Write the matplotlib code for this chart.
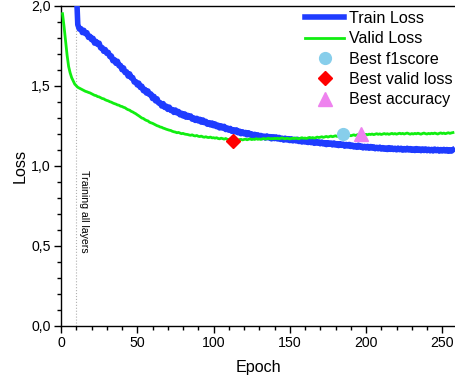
import matplotlib
matplotlib.use("Agg")
import matplotlib.pyplot as plt
from matplotlib.ticker import MultipleLocator, FixedLocator, FixedFormatter

plt.rcParams['font.family'] = ['Liberation Sans', 'DejaVu Sans']

# Validation loss, epochs 1..257
valid_start_epoch = 1
valid_loss = [
    1.95, 1.87, 1.78, 1.69, 1.62, 1.58, 1.55, 1.53, 1.51, 1.50,
    1.49, 1.485, 1.48, 1.475, 1.47, 1.465, 1.462, 1.458, 1.455, 1.45,
    1.445, 1.44, 1.438, 1.432, 1.43, 1.425, 1.42, 1.418, 1.412, 1.408,
    1.405, 1.40, 1.397, 1.392, 1.388, 1.385, 1.38, 1.378, 1.372, 1.37,
    1.365, 1.362, 1.355, 1.35, 1.347, 1.34, 1.336, 1.33, 1.325, 1.318,
    1.312, 1.305, 1.298, 1.295, 1.288, 1.283, 1.28, 1.272, 1.268, 1.265,
    1.26, 1.255, 1.25, 1.247, 1.242, 1.24, 1.235, 1.232, 1.228, 1.225,
    1.222, 1.22, 1.215, 1.212, 1.21, 1.206, 1.208, 1.204, 1.2, 1.202,
    1.198, 1.196, 1.195, 1.192, 1.19, 1.193, 1.188, 1.186, 1.189, 1.184,
    1.182, 1.185, 1.18, 1.178, 1.181, 1.177, 1.176, 1.179, 1.174, 1.175,
    1.172, 1.175, 1.17, 1.168, 1.172, 1.169, 1.166, 1.17, 1.165, 1.163,
    1.167, 1.162, 1.156, 1.161, 1.164, 1.16, 1.163, 1.165, 1.161, 1.164,
    1.166, 1.162, 1.165, 1.168, 1.163, 1.166, 1.164, 1.169, 1.165, 1.167,
    1.164, 1.168, 1.17, 1.166, 1.169, 1.172, 1.167, 1.17, 1.168, 1.171,
    1.169, 1.172, 1.168, 1.171, 1.174, 1.17, 1.168, 1.172, 1.17, 1.167,
    1.17, 1.172, 1.169, 1.173, 1.17, 1.168, 1.172, 1.175, 1.171, 1.173,
    1.17, 1.174, 1.177, 1.173, 1.176, 1.172, 1.175, 1.179, 1.176, 1.178,
    1.181, 1.177, 1.18, 1.183, 1.179, 1.182, 1.185, 1.181, 1.184, 1.187,
    1.183, 1.186, 1.189, 1.186, 1.198, 1.187, 1.184, 1.188, 1.191, 1.187,
    1.19, 1.193, 1.189, 1.192, 1.195, 1.191, 1.198, 1.197, 1.193, 1.196,
    1.193, 1.197, 1.195, 1.198, 1.194, 1.197, 1.2, 1.196, 1.199, 1.195,
    1.198, 1.201, 1.197, 1.2, 1.196, 1.199, 1.202, 1.198, 1.201, 1.197,
    1.2, 1.203, 1.199, 1.202, 1.198, 1.201, 1.204, 1.2, 1.197, 1.201,
    1.198, 1.202, 1.199, 1.203, 1.2, 1.197, 1.201, 1.204, 1.2, 1.198,
    1.202, 1.199, 1.203, 1.2, 1.204, 1.201, 1.198, 1.202, 1.205, 1.201,
    1.204, 1.2, 1.203, 1.206, 1.202, 1.205, 1.207,
]

# Training loss, epochs 10..257 (all layers unfrozen from epoch 10)
train_start_epoch = 10
train_loss = [
    2.12,
    1.882, 1.854, 1.857, 1.832, 1.846, 1.825, 1.831, 1.802, 1.809, 1.788,
    1.796, 1.766, 1.777, 1.758, 1.766, 1.736, 1.738, 1.715, 1.726, 1.702,
    1.708, 1.682, 1.686, 1.656, 1.663, 1.640, 1.653, 1.625, 1.627, 1.600,
    1.611, 1.582, 1.587, 1.560, 1.574, 1.549, 1.551, 1.523, 1.526, 1.505,
    1.516, 1.489, 1.497, 1.469, 1.477, 1.454, 1.467, 1.444, 1.448, 1.420,
    1.433, 1.405, 1.418, 1.392, 1.394, 1.373, 1.388, 1.364, 1.372, 1.352,
    1.366, 1.345, 1.351, 1.333, 1.348, 1.330, 1.339, 1.318, 1.328, 1.311,
    1.324, 1.303, 1.315, 1.302, 1.311, 1.291, 1.299, 1.283, 1.296, 1.280,
    1.290, 1.272, 1.286, 1.269, 1.277, 1.259, 1.269, 1.255, 1.267, 1.250,
    1.261, 1.244, 1.253, 1.236, 1.249, 1.235, 1.246, 1.226, 1.236, 1.222,
    1.233, 1.215, 1.225, 1.212, 1.224, 1.206, 1.216, 1.200, 1.212, 1.199,
    1.208, 1.193, 1.206, 1.192, 1.199, 1.184, 1.196, 1.183, 1.193, 1.178,
    1.189, 1.176, 1.185, 1.173, 1.186, 1.174, 1.182, 1.168, 1.181, 1.169,
    1.180, 1.167, 1.177, 1.164, 1.172, 1.160, 1.172, 1.161, 1.169, 1.157,
    1.168, 1.155, 1.165, 1.155, 1.165, 1.151, 1.160, 1.148, 1.160, 1.148,
    1.157, 1.145, 1.157, 1.144, 1.152, 1.140, 1.152, 1.141, 1.149, 1.137,
    1.148, 1.136, 1.144, 1.132, 1.144, 1.134, 1.142, 1.130, 1.142, 1.129,
    1.138, 1.126, 1.138, 1.127, 1.135, 1.122, 1.133, 1.123, 1.133, 1.120,
    1.129, 1.117, 1.126, 1.115, 1.128, 1.116, 1.123, 1.111, 1.121, 1.111,
    1.121, 1.109, 1.120, 1.110, 1.118, 1.106, 1.115, 1.106, 1.116, 1.104,
    1.113, 1.103, 1.111, 1.101, 1.113, 1.102, 1.111, 1.101, 1.109, 1.099,
    1.110, 1.100, 1.109, 1.097, 1.107, 1.098, 1.109, 1.098, 1.107, 1.096,
    1.105, 1.095, 1.107, 1.096, 1.105, 1.094, 1.105, 1.095, 1.105, 1.094,
    1.103, 1.093, 1.102, 1.092, 1.104, 1.094, 1.102, 1.091, 1.101, 1.092,
    1.102, 1.092, 1.101, 1.090, 1.100, 1.091, 1.099,
]

# Epochs of the best checkpoints
best_f1_epoch = 185
best_valid_epoch = 113
best_acc_epoch = 197
unfreeze_epoch = 10

y_ticks = [0.0, 0.5, 1.0, 1.5, 2.0]
y_tick_labels = ["0,0", "0,5", "1,0", "1,5", "2,0"]
x_ticks = [0, 50, 100, 150, 200, 250]
x_tick_labels = ["0", "50", "100", "150", "200", "250"]

valid_epochs = list(range(valid_start_epoch, valid_start_epoch + len(valid_loss)))
train_epochs = list(range(train_start_epoch, train_start_epoch + len(train_loss)))


def valid_at(epoch):
    return valid_loss[epoch - valid_start_epoch]


fig = plt.figure(figsize=(4.56, 3.80), dpi=100)
ax = fig.add_axes([61 / 456, 54.3 / 380, 1 - 61 / 456, 320 / 380])

ax.axvline(unfreeze_epoch, color="#b0b0b0", linestyle=":", linewidth=0.8, zorder=1)
ax.text(unfreeze_epoch + 4.8, 0.975, "Training all layers", rotation=270,
        fontsize=7.6, ha="center", va="top")

ax.plot(train_epochs, train_loss, color="#1f3cff", linewidth=4.0,
        label="Train Loss", zorder=3)
ax.plot(valid_epochs, valid_loss, color="#11ee11", linewidth=2.0,
        label="Valid Loss", zorder=4)

ax.plot([best_f1_epoch], [valid_at(best_f1_epoch)], linestyle="none",
        marker="o", markersize=8.5, color="#87ceeb", label="Best f1score", zorder=5)
ax.plot([best_valid_epoch], [valid_at(best_valid_epoch)], linestyle="none",
        marker="D", markersize=7.5, color="#ff0000", label="Best valid loss", zorder=5)
ax.plot([best_acc_epoch], [valid_at(best_acc_epoch)], linestyle="none",
        marker="^", markersize=9.5, color="#ee82ee", label="Best accuracy", zorder=5)

ax.set_xlim(0, 259)
ax.set_ylim(0, 2.0)

ax.xaxis.set_major_locator(FixedLocator(x_ticks))
ax.xaxis.set_major_formatter(FixedFormatter(x_tick_labels))
ax.xaxis.set_minor_locator(MultipleLocator(10))
ax.yaxis.set_major_locator(FixedLocator(y_ticks))
ax.yaxis.set_major_formatter(FixedFormatter(y_tick_labels))
ax.yaxis.set_minor_locator(MultipleLocator(0.1))

ax.tick_params(which="major", direction="out", length=5, width=1.0,
               labelsize=10.2, pad=2.5)
ax.tick_params(which="minor", direction="out", length=3, width=1.0)
for s in ax.spines.values():
    s.set_linewidth(1.0)

ax.set_xlabel("Epoch", fontsize=11.6, labelpad=7)
ax.set_ylabel("Loss", fontsize=11.6, labelpad=2.5)

ax.legend(loc="upper left", bbox_to_anchor=(305 / 456, 1 - 11 / 380),
          bbox_transform=fig.transFigure, frameon=False, fontsize=11.6,
          handlelength=2.45, handletextpad=0.3, labelspacing=0.33,
          borderpad=0, borderaxespad=0, numpoints=1)

fig.savefig("out.png", dpi=100)
